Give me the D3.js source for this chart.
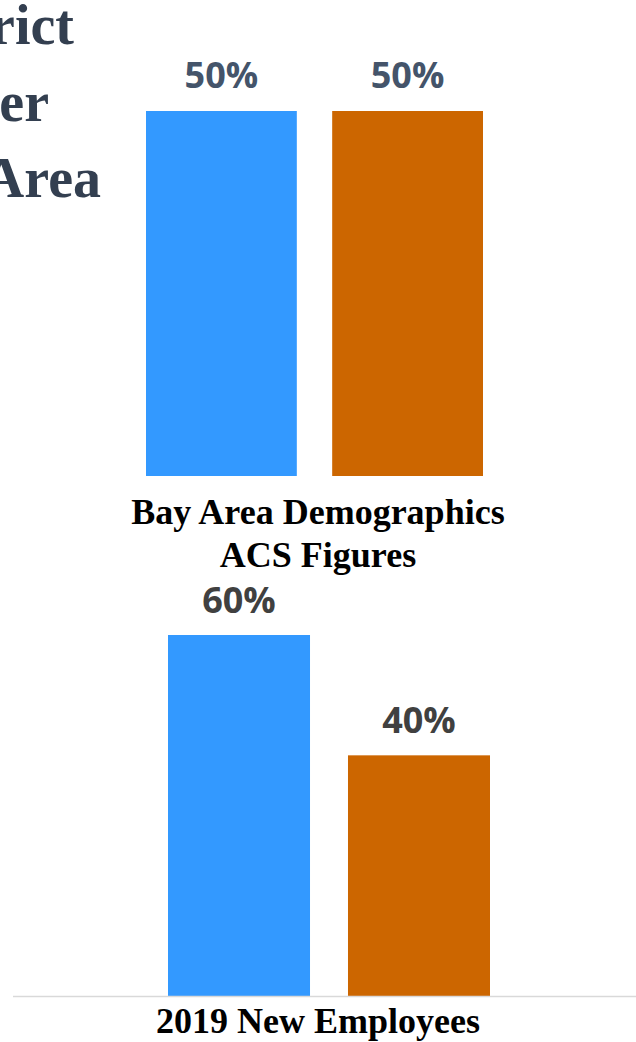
<!DOCTYPE html>
<html>
<head>
<meta charset="utf-8">
<script src="https://cdn.jsdelivr.net/npm/d3@7"></script>
<style>
html,body{margin:0;padding:0;background:#fff;overflow:hidden;}
</style>
</head>
<body>
<svg id="chart" width="636" height="1042"></svg>
<script>
// Data
const genders = ["Male", "Female"];
const bayAreaValues = [50, 50];
const newEmployeeValues = [60, 40];
const colors = ["#3399FF", "#CC6600"];
const titleLines = ["Gender: District", "Employer", "vs. Bay Area"];
const topCategoryLines = ["Bay Area Demographics", "ACS Figures"];
const bottomCategoryLines = ["2019 New Employees"];

const svg = d3.select("#chart");

// Title (clipped at the left edge in the reference)
const titleEnds = [74, 49, 101];
const titleBase = [44, 121, 197];
svg.selectAll("text.title").data(titleLines).join("text")
  .attr("class", "title")
  .attr("x", (d, i) => titleEnds[i])
  .attr("y", (d, i) => titleBase[i])
  .attr("text-anchor", "end")
  .attr("font-family", "'Liberation Serif', 'Times New Roman', serif")
  .attr("font-weight", "bold")
  .attr("font-size", 56)
  .attr("fill", "#333F50")
  .text(d => d);

function drawPanel(values, xRange, pad, yDomainMax, yRange, labelColor, labelOffset) {
  const x = d3.scaleBand().domain(genders).range(xRange).paddingInner(pad).paddingOuter(0);
  const y = d3.scaleLinear().domain([0, yDomainMax]).range(yRange);
  const g = svg.append("g");
  g.selectAll("rect").data(values).join("rect")
    .attr("x", (d, i) => x(genders[i]))
    .attr("width", x.bandwidth())
    .attr("y", d => y(d))
    .attr("height", d => y(0) - y(d))
    .attr("fill", (d, i) => colors[i]);
  g.selectAll("text").data(values).join("text")
    .attr("x", (d, i) => x(genders[i]) + x.bandwidth() / 2)
    .attr("y", d => y(d) - labelOffset)
    .attr("text-anchor", "middle")
    .attr("font-family", "'Open Sans', 'Noto Sans', sans-serif")
    .attr("font-weight", "bold")
    .attr("font-size", 36)
    .attr("fill", labelColor)
    .text(d => d + "%");
  return {x, y};
}

// Top panel
drawPanel(bayAreaValues, [146, 483], 0.19, 50, [476, 111], "#44546A", 23);

svg.selectAll("text.cat1").data(topCategoryLines).join("text")
  .attr("class", "cat1")
  .attr("x", 318)
  .attr("y", (d, i) => 524 + i * 43)
  .attr("text-anchor", "middle")
  .attr("font-family", "'Liberation Serif', 'Times New Roman', serif")
  .attr("font-weight", "bold")
  .attr("font-size", 36)
  .attr("fill", "#000")
  .text(d => d);

// Bottom panel
const bottom = drawPanel(newEmployeeValues, [168, 490], 0.211, 60, [996, 635], "#404040", 22);

svg.append("line")
  .attr("x1", 13).attr("x2", 636)
  .attr("y1", bottom.y(0) + 0.5).attr("y2", bottom.y(0) + 0.5)
  .attr("stroke", "#D9D9D9")
  .attr("stroke-width", 1.5);

svg.selectAll("text.cat2").data(bottomCategoryLines).join("text")
  .attr("class", "cat2")
  .attr("x", 318)
  .attr("y", 1033)
  .attr("text-anchor", "middle")
  .attr("font-family", "'Liberation Serif', 'Times New Roman', serif")
  .attr("font-weight", "bold")
  .attr("font-size", 36)
  .attr("fill", "#000")
  .text(d => d);
</script>
</body>
</html>
